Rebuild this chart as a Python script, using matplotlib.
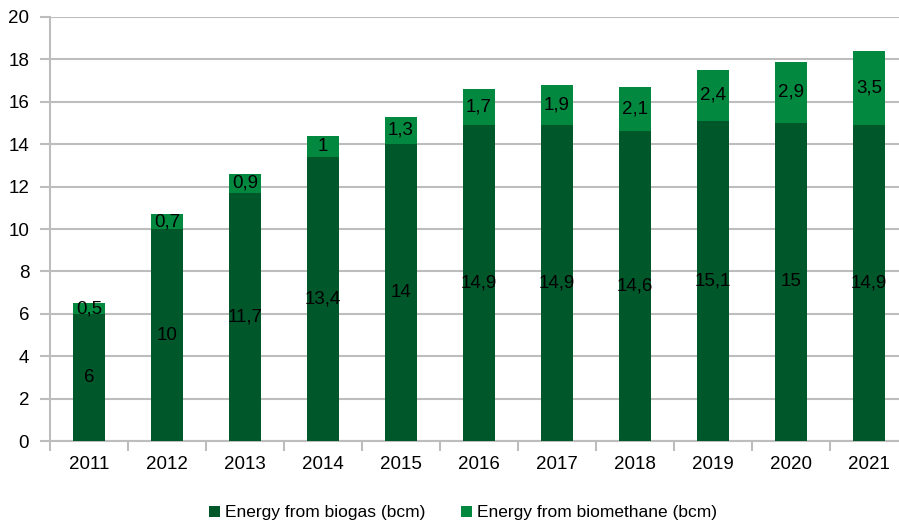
import matplotlib.pyplot as plt
import numpy as np

plt.rcParams['font.family'] = ['Liberation Sans', 'DejaVu Sans']

# ---- data ----
years = ['2011', '2012', '2013', '2014', '2015', '2016', '2017', '2018', '2019', '2020', '2021']
biogas = [6, 10, 11.7, 13.4, 14, 14.9, 14.9, 14.6, 15.1, 15, 14.9]
biomethane = [0.5, 0.7, 0.9, 1, 1.3, 1.7, 1.9, 2.1, 2.4, 2.9, 3.5]

dark = '#00572A'
light = '#03893F'
grid = '#BDBDBD'


def fmt(v):
	'''comma decimal like the original'''
	s = f'{v:g}'
	return s.replace('.', ',')


fig = plt.figure(figsize=(8.99, 5.26), dpi=100)
ax = fig.add_axes([50/899, 1-441/526, 858/899, 424/526])

x = np.arange(len(years))
b1 = ax.bar(x, biogas, width=0.4, color=dark, label='Energy from biogas (bcm)', zorder=3)
b2 = ax.bar(x, biomethane, width=0.4, bottom=biogas, color=light,
            label='Energy from biomethane (bcm)', zorder=3)

# value labels in the middle of each segment
for i in range(len(years)):
	ax.text(x[i], biogas[i] / 2, fmt(biogas[i]), ha='center', va='center', fontsize=13.5, zorder=4)
	ax.text(x[i], biogas[i] + biomethane[i] / 2, fmt(biomethane[i]), ha='center', va='center',
	        fontsize=13.5, zorder=4)

#---- axes ----
ax.set_xlim(-0.5, len(years) - 0.5)
ax.set_ylim(0, 20)
ax.set_yticks(np.arange(0, 21, 2))
ax.set_xticks(x)
ax.set_xticklabels(years)
ax.set_xticks(np.arange(-0.5, len(years), 1), minor=True)

ax.yaxis.grid(True, color=grid, linewidth=1.5, zorder=0)
for s in ['top', 'right']:
	ax.spines[s].set_visible(False)
for s in ['left', 'bottom']:
	ax.spines[s].set_color(grid)
	ax.spines[s].set_linewidth(1.5)

ax.tick_params(axis='y', length=7, width=1.5, color=grid, labelsize=13.5, pad=8)
ax.tick_params(axis='x', which='major', length=0, labelsize=13.5, pad=11)
ax.tick_params(axis='x', which='minor', length=7, width=1.5, color=grid)

fig.legend(handles=[b1, b2], loc='center', bbox_to_anchor=(0.515, 1 - 513/526), ncol=2,
           frameon=False, fontsize=12.5, handlelength=0.65, handleheight=0.65,
           handletextpad=0.3, columnspacing=2.0)

fig.savefig('out.png', dpi=100)
